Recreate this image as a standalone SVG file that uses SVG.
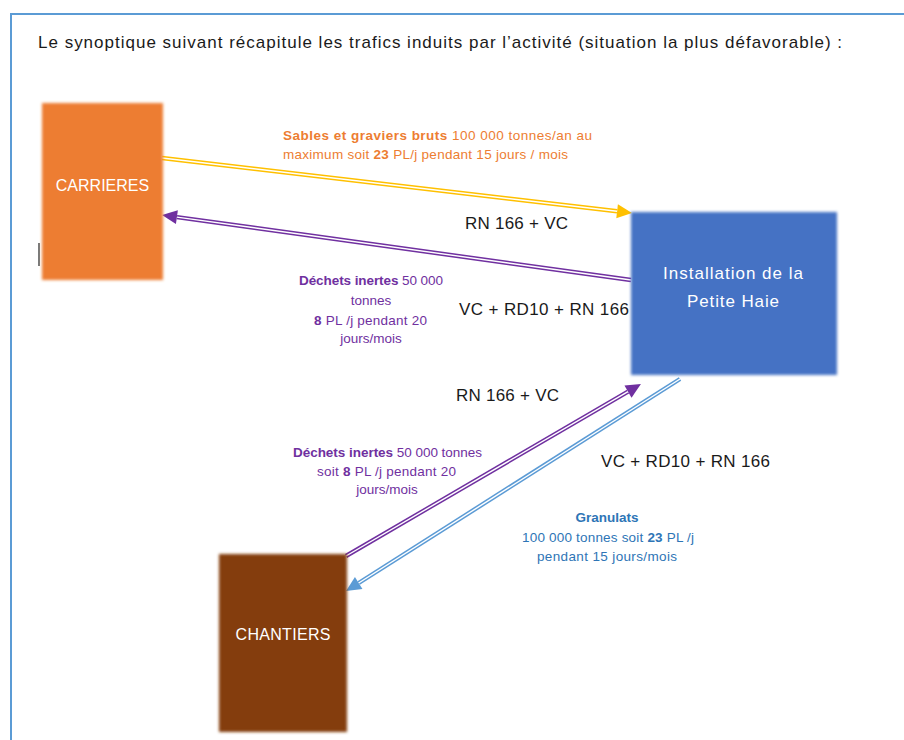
<svg xmlns="http://www.w3.org/2000/svg" width="904" height="740" viewBox="0 0 904 740">
  <style>
    text { font-family: "Liberation Sans", Arial, sans-serif; }
    .title { font-size: 17px; fill: #1a1a1a; }
    .box { font-size: 16px; fill: #ffffff; }
    .box2 { font-size: 17px; fill: #ffffff; }
    .road { font-size: 17px; fill: #1a1a1a; }
    .lbl { font-size: 13.5px; }
    .or { fill: #ED7D31; }
    .pu { fill: #7030A0; }
    .bl { fill: #2E75B6; }
    .b { font-weight: bold; }
    .gap { stroke: #ffffff; stroke-width: 1.4; fill: none; }
  </style>
  <defs>
    <filter id="soft" x="-10%" y="-10%" width="120%" height="120%">
      <feGaussianBlur stdDeviation="1.6"/>
    </filter>
    <marker id="ahY" markerUnits="userSpaceOnUse" markerWidth="16" markerHeight="15" refX="0" refY="7" orient="auto" overflow="visible">
      <path d="M0,0 L15,7 L0,14 z" fill="#FFC000"/>
    </marker>
    <marker id="ahP" markerUnits="userSpaceOnUse" markerWidth="16" markerHeight="15" refX="0" refY="7" orient="auto" overflow="visible">
      <path d="M0,0 L15,7 L0,14 z" fill="#7030A0"/>
    </marker>
    <marker id="ahB" markerUnits="userSpaceOnUse" markerWidth="16" markerHeight="15" refX="0" refY="7" orient="auto" overflow="visible">
      <path d="M0,0 L15,7 L0,14 z" fill="#5B9BD5"/>
    </marker>
  </defs>

  <rect width="904" height="740" fill="#ffffff"/>
  <!-- page frame -->
  <path d="M11,740 L11,14 L904,14" fill="none" stroke="#5B9BD5" stroke-width="2"/>
  <!-- text cursor -->
  <line x1="39" y1="243" x2="39" y2="266" stroke="#222" stroke-width="1.2"/>

  <text class="title" x="38" y="48" textLength="804">Le synoptique suivant récapitule les trafics induits par l’activité (situation la plus défavorable) :</text>

  <g id="connectors">
    <g id="c-carrieres-installation">
      <path d="M162,158 L617.1,211.3" stroke="#FFC000" stroke-width="4.4" fill="none" marker-end="url(#ahY)"/>
      <path class="gap" d="M162,158 L617.1,211.3"/>
    </g>
    <g id="c-installation-carrieres">
      <path d="M631,280 L176.9,217.1" stroke="#7030A0" stroke-width="4.4" fill="none" marker-end="url(#ahP)"/>
      <path class="gap" d="M631,280 L176.9,217.1"/>
    </g>
    <g id="c-chantiers-installation">
      <path d="M346,556 L628,391.6" stroke="#7030A0" stroke-width="4.4" fill="none" marker-end="url(#ahP)"/>
      <path class="gap" d="M346,556 L628,391.6"/>
    </g>
    <g id="c-installation-chantiers">
      <path d="M680,379 L358.7,583" stroke="#5B9BD5" stroke-width="4.4" fill="none" marker-end="url(#ahB)"/>
      <path class="gap" d="M680,379 L358.7,583"/>
    </g>
  </g>

  <g id="carrieres">
    <rect x="42" y="103" width="121" height="177" fill="#ED7D31" filter="url(#soft)"/>
    <text class="box" x="102.5" y="191" text-anchor="middle">CARRIERES</text>
  </g>

  <g id="installation">
    <rect x="631" y="212" width="206" height="163" fill="#4472C4" filter="url(#soft)"/>
    <text class="box2" x="733" y="279" text-anchor="middle" textLength="140">Installation de la</text>
    <text class="box2" x="733" y="307" text-anchor="middle" textLength="92">Petite Haie</text>
  </g>

  <g id="chantiers">
    <rect x="219" y="554" width="128" height="178" fill="#843C0C" filter="url(#soft)"/>
    <text class="box" x="283" y="640" text-anchor="middle" textLength="95">CHANTIERS</text>
  </g>

  <g id="labels">
    <text class="lbl or" x="283" y="140" textLength="309"><tspan class="b">Sables et graviers bruts</tspan> 100 000 tonnes/an au</text>
    <text class="lbl or" x="283" y="159" textLength="285">maximum soit <tspan class="b">23</tspan> PL/j pendant 15 jours / mois</text>

    <text class="road" x="465" y="229" textLength="103">RN 166 + VC</text>

    <text class="lbl pu" x="299" y="285" textLength="144"><tspan class="b">Déchets inertes</tspan> 50 000</text>
    <text class="lbl pu" x="371" y="305" text-anchor="middle">tonnes</text>
    <text class="lbl pu" x="314" y="325" textLength="113"><tspan class="b">8</tspan> PL /j pendant 20</text>
    <text class="lbl pu" x="371" y="343" text-anchor="middle">jours/mois</text>

    <text class="road" x="459" y="315" textLength="170">VC + RD10 + RN 166</text>

    <text class="road" x="456" y="401" textLength="103">RN 166 + VC</text>

    <text class="lbl pu" x="293" y="457" textLength="189"><tspan class="b">Déchets inertes</tspan> 50 000 tonnes</text>
    <text class="lbl pu" x="317" y="476" textLength="139">soit <tspan class="b">8</tspan> PL /j pendant 20</text>
    <text class="lbl pu" x="387" y="494" text-anchor="middle">jours/mois</text>

    <text class="road" x="601" y="467" textLength="169">VC + RD10 + RN 166</text>

    <text class="lbl bl b" x="607" y="522" text-anchor="middle">Granulats</text>
    <text class="lbl bl" x="522" y="542" textLength="172">100 000 tonnes soit <tspan class="b">23</tspan> PL /j</text>
    <text class="lbl bl" x="537" y="561" textLength="140">pendant 15 jours/mois</text>
  </g>
</svg>
